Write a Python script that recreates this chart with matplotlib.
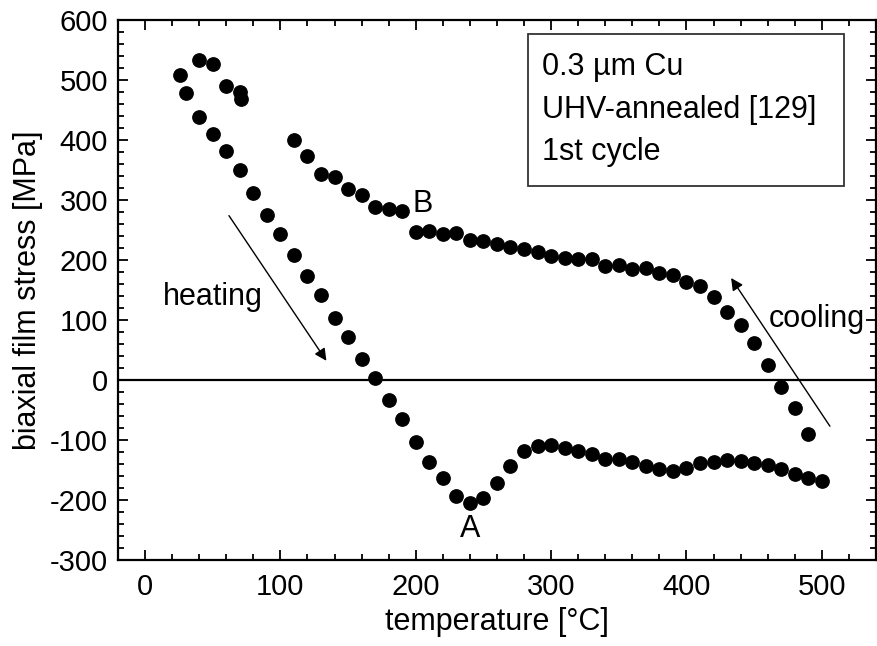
import matplotlib

matplotlib.use("Agg")
import matplotlib.pyplot as plt
from matplotlib.patches import Rectangle
from matplotlib.ticker import MultipleLocator

plt.rcParams["font.family"] = ["Liberation Sans", "DejaVu Sans"]
plt.rcParams["axes.unicode_minus"] = False  # plain hyphen like the original

# heating branch (temperature in C, stress in MPa)
heating_T = [26, 30, 40, 50, 60, 70, 80, 90, 100, 110, 120, 130, 140, 150, 160,
             170, 180, 190, 200, 210, 220, 230, 240, 250, 260, 270, 280, 290,
             300, 310, 320, 330, 340, 350, 360, 370, 380, 390, 400, 410, 420,
             430, 440, 450, 460, 470, 480, 490, 500]
heating_S = [508, 478, 439, 410, 381, 350, 311, 275, 243, 208, 174, 142, 104, 71,
             35, 3, -33, -65, -103, -136, -164, -193, -205, -197, -171, -143,
             -118, -110, -109, -114, -119, -124, -131, -132, -136, -143, -149,
             -151, -146, -139, -137, -133, -135, -139, -142, -149, -157, -164,
             -168]

# cooling branch
cooling_T = [490, 480, 470, 460, 450, 440, 430, 420, 410, 400, 390, 380, 370,
             360, 350, 340, 330, 320, 310, 300, 290, 280, 270, 260, 250, 240,
             230, 220, 210, 200, 190, 180, 170, 160, 150, 140, 130, 120, 110,
             71, 70, 60, 50, 40]
cooling_S = [-90, -46, -11, 25, 62, 91, 114, 139, 157, 163, 175, 178, 186, 185,
             192, 190, 201, 201, 204, 207, 214, 218, 221, 227, 232, 234, 245,
             243, 248, 247, 281, 285, 288, 309, 318, 339, 343, 373, 400, 468,
             480, 490, 527, 533]

box_lines = ["0.3 µm Cu", "UHV-annealed [129]", "1st cycle"]

fig = plt.figure(figsize=(8.77, 6.46), dpi=100)
fig.patch.set_facecolor("white")
ax = fig.add_axes([0.1345, 0.1331, 0.8643, 0.8359])

ax.axhline(0, color="black", linewidth=1.6, zorder=1)
ax.plot(heating_T, heating_S, "o", color="black", markersize=9.6, zorder=3)
ax.plot(cooling_T, cooling_S, "o", color="black", markersize=9.6, zorder=3)

ax.set_xlim(-20, 540)
ax.set_ylim(-300, 600)
ax.xaxis.set_major_locator(MultipleLocator(100))
ax.xaxis.set_minor_locator(MultipleLocator(20))
ax.yaxis.set_major_locator(MultipleLocator(100))
ax.yaxis.set_minor_locator(MultipleLocator(20))
ax.tick_params(which="both", direction="in", top=True, right=True,
               labelsize=21, width=1.3, pad=7)
ax.tick_params(axis="x", pad=9)
ax.tick_params(which="major", length=7)
ax.tick_params(which="minor", length=4)
for spine in ax.spines.values():
    spine.set_linewidth(1.6)

ax.set_xlabel("temperature [°C]", fontsize=22, labelpad=5)
ax.set_ylabel("biaxial film stress [MPa]", fontsize=22, labelpad=5)

# annotations
ax.text(50, 138, "heating", fontsize=22, ha="center", va="center")
ax.text(496, 102, "cooling", fontsize=22, ha="center", va="center")
ax.text(205, 294, "B", fontsize=22, ha="center", va="center")
ax.text(240, -248, "A", fontsize=22, ha="center", va="center")

ax.annotate("", xy=(134, 32), xytext=(62, 274),
            arrowprops=dict(arrowstyle="-|>", color="black", lw=1.0,
                            mutation_scale=18, shrinkA=0, shrinkB=0))
ax.annotate("", xy=(433, 170), xytext=(506, -77),
            arrowprops=dict(arrowstyle="-|>", color="black", lw=1.0,
                            mutation_scale=18, shrinkA=0, shrinkB=0))

ax.add_patch(Rectangle((0.5416, 0.6926), 0.4161, 0.2814, transform=ax.transAxes,
                       fill=False, edgecolor="#333333", linewidth=1.3, zorder=4))
for i, line in enumerate(box_lines):
    ax.text(0.560, 0.898 - i * 0.0787, line, transform=ax.transAxes,
            fontsize=22, ha="left", va="baseline")

fig.savefig("out.png", dpi=100)
